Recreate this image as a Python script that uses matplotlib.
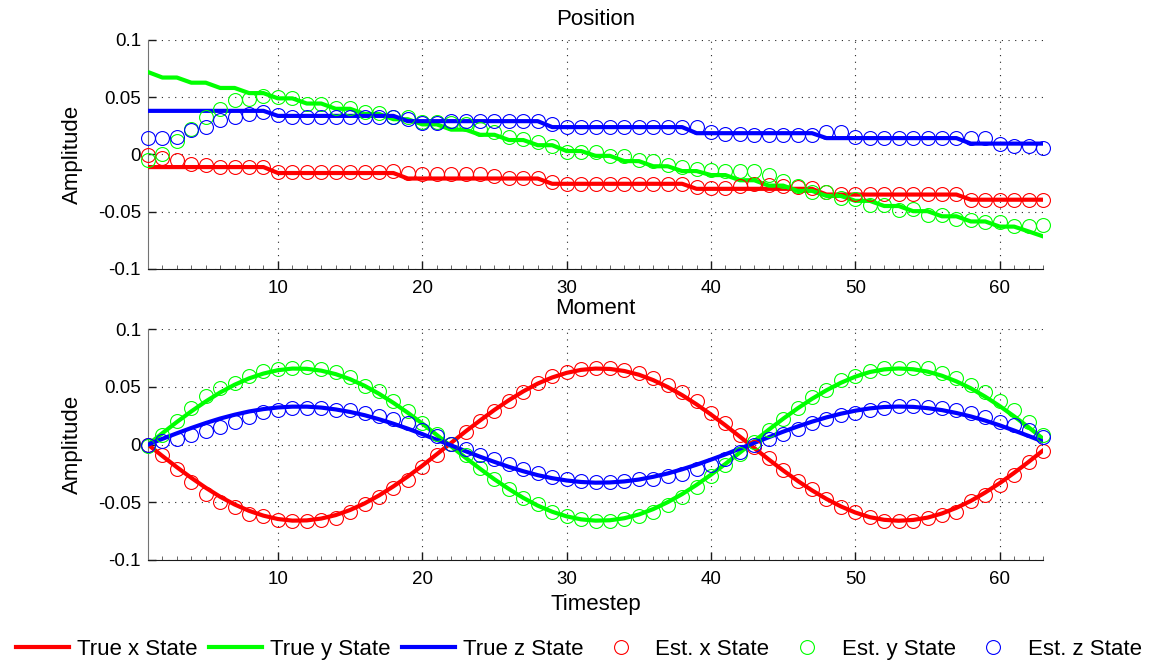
import matplotlib
matplotlib.use("Agg")
import matplotlib.pyplot as plt
from matplotlib.ticker import MultipleLocator, FuncFormatter
import numpy as np

plt.rcParams['font.family'] = ['Liberation Sans', 'DejaVu Sans']

timestep = np.arange(1, 64)

# ---- Position panel ----
pos_true_x = [-0.011]*9 + [-0.0162]*9 + [-0.021]*10 + [-0.0256]*10 + [-0.030]*9 + [-0.035]*10 + [-0.0395]*6
pos_true_z = [0.0381]*9 + [0.0337]*9 + [0.0291]*10 + [0.0239]*10 + [0.0186]*9 + [0.0143]*10 + [0.0095]*6
pos_true_y = [0.072, 0.0672, 0.0672, 0.0627, 0.0627, 0.0581, 0.0581, 0.0536, 0.0536, 0.049,
              0.049, 0.0445, 0.0445, 0.0399, 0.0399, 0.0354, 0.0354, 0.0308, 0.0308, 0.0263,
              0.0263, 0.0217, 0.0217, 0.0172, 0.0172, 0.0126, 0.0126, 0.0081, 0.0081, 0.0030,
              0.0030, -0.0012, -0.0012, -0.0058, -0.0058, -0.0103, -0.0103, -0.0145, -0.0145, -0.0180,
              -0.0180, -0.0225, -0.0225, -0.0272, -0.0272, -0.0318, -0.0318, -0.0362, -0.0362, -0.0405,
              -0.0405, -0.0450, -0.0450, -0.0495, -0.0495, -0.0540, -0.0540, -0.0585, -0.0585, -0.0630,
              -0.0630, -0.0672, -0.0715]

pos_est_x = [-0.0003, -0.003, -0.0052, -0.0084, -0.009, -0.0105, -0.0105, -0.0105, -0.0105, -0.0157,
             -0.0157, -0.0157, -0.0157, -0.0157, -0.0157, -0.0157, -0.0157, -0.0142, -0.016, -0.0168,
             -0.0168, -0.0168, -0.0168, -0.0168, -0.0192, -0.0206, -0.0206, -0.0206, -0.024, -0.0256,
             -0.0256, -0.0256, -0.0256, -0.0256, -0.0256, -0.0256, -0.0256, -0.0256, -0.0285, -0.0293,
             -0.0293, -0.0279, -0.0256, -0.0265, -0.0279, -0.0285, -0.0297, -0.0331, -0.0343, -0.0343,
             -0.0343, -0.0343, -0.0343, -0.0343, -0.0343, -0.0343, -0.0343, -0.0395, -0.0395, -0.0395,
             -0.0395, -0.0395, -0.0398]
pos_est_y = [-0.0046, 0.0006, 0.0122, 0.022, 0.0326, 0.0396, 0.0477, 0.0486, 0.0512, 0.050,
             0.0492, 0.0442, 0.0442, 0.0405, 0.0405, 0.0367, 0.036, 0.0326, 0.0326, 0.0288,
             0.0285, 0.0274, 0.0266, 0.022, 0.020, 0.0151, 0.0134, 0.0105, 0.0076, 0.0026,
             0.0026, 0.0026, -0.0017, -0.0017, -0.0046, -0.0055, -0.009, -0.011, -0.0128, -0.0133,
             -0.0148, -0.0148, -0.0148, -0.0183, -0.0235, -0.0279, -0.0328, -0.0331, -0.038, -0.039,
             -0.0439, -0.0439, -0.0482, -0.0476, -0.0526, -0.0526, -0.0564, -0.0576, -0.0593, -0.0593,
             -0.0622, -0.0622, -0.0613]
pos_est_z = [0.0143, 0.0143, 0.0157, 0.021, 0.0239, 0.0297, 0.0326, 0.0355, 0.0375, 0.0343,
             0.0331, 0.0331, 0.0331, 0.0331, 0.0331, 0.0331, 0.0331, 0.0331, 0.0309, 0.0279,
             0.0279, 0.0294, 0.0294, 0.0294, 0.0294, 0.0294, 0.0294, 0.0294, 0.0265, 0.0239,
             0.0239, 0.0239, 0.0239, 0.0239, 0.0239, 0.0239, 0.0239, 0.0239, 0.0239, 0.0192,
             0.018, 0.018, 0.0172, 0.0172, 0.0172, 0.0172, 0.0172, 0.020, 0.020, 0.0152,
             0.0143, 0.0143, 0.0143, 0.0143, 0.0143, 0.0143, 0.0143, 0.0143, 0.0143, 0.0093,
             0.007, 0.007, 0.006]

# ---- Moment panel ----
mom_true_x = [0.0, -0.0099, -0.0196, -0.0288, -0.0374, -0.0452, -0.0519, -0.0574, -0.0616, -0.0645,
              -0.0659, -0.0657, -0.0641, -0.0611, -0.0567, -0.0510, -0.0441, -0.0362, -0.0276, -0.0183,
              -0.0084, 0.0015, 0.0114, 0.0209, 0.0301, 0.0385, 0.0462, 0.0529, 0.0582, 0.0622,
              0.0648, 0.0659, 0.0656, 0.0638, 0.0606, 0.0559, 0.0499, 0.0429, 0.0349, 0.0261,
              0.0167, 0.0069, -0.0030, -0.0129, -0.0224, -0.0314, -0.0397, -0.0471, -0.0536, -0.0589,
              -0.0629, -0.0652, -0.0660, -0.0653, -0.0633, -0.0597, -0.0548, -0.0488, -0.0415, -0.0334,
              -0.0245, -0.0150, -0.0051]
mom_true_y = [0.0, 0.0099, 0.0196, 0.0288, 0.0374, 0.0452, 0.0519, 0.0574, 0.0616, 0.0645,
              0.0659, 0.0657, 0.0641, 0.0611, 0.0567, 0.0510, 0.0441, 0.0362, 0.0276, 0.0183,
              0.0084, -0.0015, -0.0114, -0.0209, -0.0301, -0.0385, -0.0462, -0.0529, -0.0582, -0.0622,
              -0.0648, -0.0659, -0.0656, -0.0638, -0.0606, -0.0559, -0.0499, -0.0429, -0.0349, -0.0261,
              -0.0167, -0.0069, 0.0030, 0.0129, 0.0224, 0.0314, 0.0397, 0.0471, 0.0536, 0.0589,
              0.0629, 0.0652, 0.0660, 0.0653, 0.0633, 0.0597, 0.0548, 0.0488, 0.0415, 0.0334,
              0.0245, 0.0150, 0.0051]
mom_true_z = [0.0, 0.0050, 0.0098, 0.0144, 0.0187, 0.0226, 0.0259, 0.0287, 0.0308, 0.0322,
              0.0329, 0.0329, 0.0321, 0.0305, 0.0283, 0.0255, 0.0220, 0.0181, 0.0138, 0.0091,
              0.0042, -0.0007, -0.0057, -0.0105, -0.0150, -0.0193, -0.0231, -0.0265, -0.0291, -0.0311,
              -0.0324, -0.0330, -0.0328, -0.0319, -0.0303, -0.0279, -0.0250, -0.0214, -0.0174, -0.0130,
              -0.0084, -0.0035, 0.0015, 0.0064, 0.0112, 0.0157, 0.0199, 0.0236, 0.0268, 0.0294,
              0.0314, 0.0326, 0.0330, 0.0327, 0.0316, 0.0299, 0.0274, 0.0244, 0.0208, 0.0167,
              0.0122, 0.0075, 0.0026]

mom_est_x = [0.0, -0.0093, -0.0209, -0.0325, -0.0426, -0.0499, -0.0542, -0.060, -0.0623, -0.065,
             -0.0664, -0.0664, -0.065, -0.0635, -0.0586, -0.0513, -0.0456, -0.0377, -0.0304, -0.0195,
             -0.0093, 0.0009, 0.011, 0.0203, 0.029, 0.0377, 0.0452, 0.053, 0.0594, 0.0631,
             0.0655, 0.0666, 0.066, 0.0646, 0.0617, 0.0579, 0.0516, 0.0452, 0.0377, 0.0278,
             0.0183, 0.0087, -0.0021, -0.0117, -0.0223, -0.0316, -0.0389, -0.047, -0.0542, -0.0586,
             -0.0629, -0.0658, -0.0658, -0.0658, -0.0638, -0.0609, -0.058, -0.0493, -0.0441, -0.0354,
             -0.0261, -0.0151, -0.0058]
mom_est_y = [-0.001, 0.0087, 0.0203, 0.0318, 0.042, 0.0492, 0.0536, 0.0594, 0.0637, 0.0652,
             0.0666, 0.0675, 0.0655, 0.0626, 0.0588, 0.051, 0.0464, 0.0377, 0.029, 0.0191,
             0.0096, 0.0009, -0.0093, -0.0203, -0.0296, -0.0383, -0.0464, -0.0513, -0.0586, -0.0615,
             -0.0643, -0.0658, -0.0658, -0.0643, -0.0615, -0.0586, -0.0522, -0.0456, -0.0369, -0.0273,
             -0.018, -0.0078, 0.0023, 0.0124, 0.0226, 0.0313, 0.0414, 0.0472, 0.0559, 0.0594,
             0.0637, 0.066, 0.0666, 0.0666, 0.066, 0.0617, 0.0574, 0.0516, 0.0452, 0.0377,
             0.0298, 0.0197, 0.0081]
mom_est_z = [0.0, 0.0029, 0.0046, 0.0081, 0.0116, 0.0153, 0.0197, 0.024, 0.0283, 0.0298,
             0.0313, 0.032, 0.0313, 0.0304, 0.0298, 0.027, 0.0249, 0.022, 0.0183, 0.0124,
             0.0075, 0.0009, -0.0035, -0.0093, -0.0128, -0.0165, -0.0209, -0.0244, -0.0282, -0.0296,
             -0.0316, -0.0325, -0.0325, -0.0316, -0.0302, -0.0296, -0.0276, -0.0258, -0.0209, -0.018,
             -0.0128, -0.0064, -0.0006, 0.0046, 0.0096, 0.0139, 0.0183, 0.022, 0.0255, 0.0278,
             0.0304, 0.0318, 0.0336, 0.0336, 0.0327, 0.0313, 0.0298, 0.027, 0.024, 0.0197,
             0.0168, 0.0124, 0.0066]

colors = ['#ff0000', '#00ff00', '#0000ff']
true_labels = ['True x State', 'True y State', 'True z State']
est_labels = ['Est. x State', 'Est. y State', 'Est. z State']

fig = plt.figure(figsize=(11.58, 6.63), dpi=100)
ax1 = fig.add_axes([0.1278, 0.5943, 0.7729, 0.3454])
ax2 = fig.add_axes([0.1278, 0.1554, 0.7729, 0.3480])


def style_axes(ax, title):
    ax.set_xlim(1, 63)
    ax.set_ylim(-0.1, 0.1)
    ax.set_xticks([10, 20, 30, 40, 50, 60])
    ax.set_yticks([-0.1, -0.05, 0, 0.05, 0.1])
    ax.yaxis.set_major_formatter(FuncFormatter(lambda v, p: ('%g' % round(v, 3)).replace('\u2212', '-')))
    ax.xaxis.set_minor_locator(MultipleLocator(1))
    ax.tick_params(axis='both', which='major', direction='in', length=6, width=1,
                   labelsize=13.5, color='0.1')
    ax.tick_params(axis='x', which='major', pad=8)
    ax.tick_params(axis='y', which='major', pad=5)
    ax.tick_params(axis='x', which='minor', direction='in', length=3, width=0.6, color='0.3')
    ax.grid(True, which='major', linestyle=(0, (1, 5)), color='0.15', linewidth=0.8)
    ax.spines['top'].set_visible(False)
    ax.spines['right'].set_visible(False)
    ax.spines['left'].set_color('0.45')
    ax.spines['bottom'].set_color('0.1')
    ax.set_ylabel('Amplitude', fontsize=16, labelpad=11)
    ax.set_title(title, fontsize=16, pad=11)


panels = [
    (ax1, 'Position', [pos_true_x, pos_true_y, pos_true_z], [pos_est_x, pos_est_y, pos_est_z]),
    (ax2, 'Moment', [mom_true_x, mom_true_y, mom_true_z], [mom_est_x, mom_est_y, mom_est_z]),
]

for ax, title, trues, ests in panels:
    for vals, c, lab in zip(trues, colors, true_labels):
        ax.plot(timestep, vals, color=c, linewidth=3, label=lab, zorder=3)
    for vals, c, lab in zip(ests, colors, est_labels):
        ax.plot(timestep, vals, linestyle='none', marker='o', markersize=10,
                markerfacecolor='none', markeredgecolor=c, markeredgewidth=0.8,
                label=lab, clip_on=False, zorder=4)
    style_axes(ax, title)

ax2.set_xlabel('Timestep', fontsize=16, labelpad=4)

handles, labels = ax1.get_legend_handles_labels()
fig.legend(handles, labels, loc='lower center', bbox_to_anchor=(0.5, -0.026), ncol=6,
           frameon=False, fontsize=16, handlelength=2.4, handletextpad=0.35,
           columnspacing=0.5)

fig.savefig('out.png', dpi=100)
